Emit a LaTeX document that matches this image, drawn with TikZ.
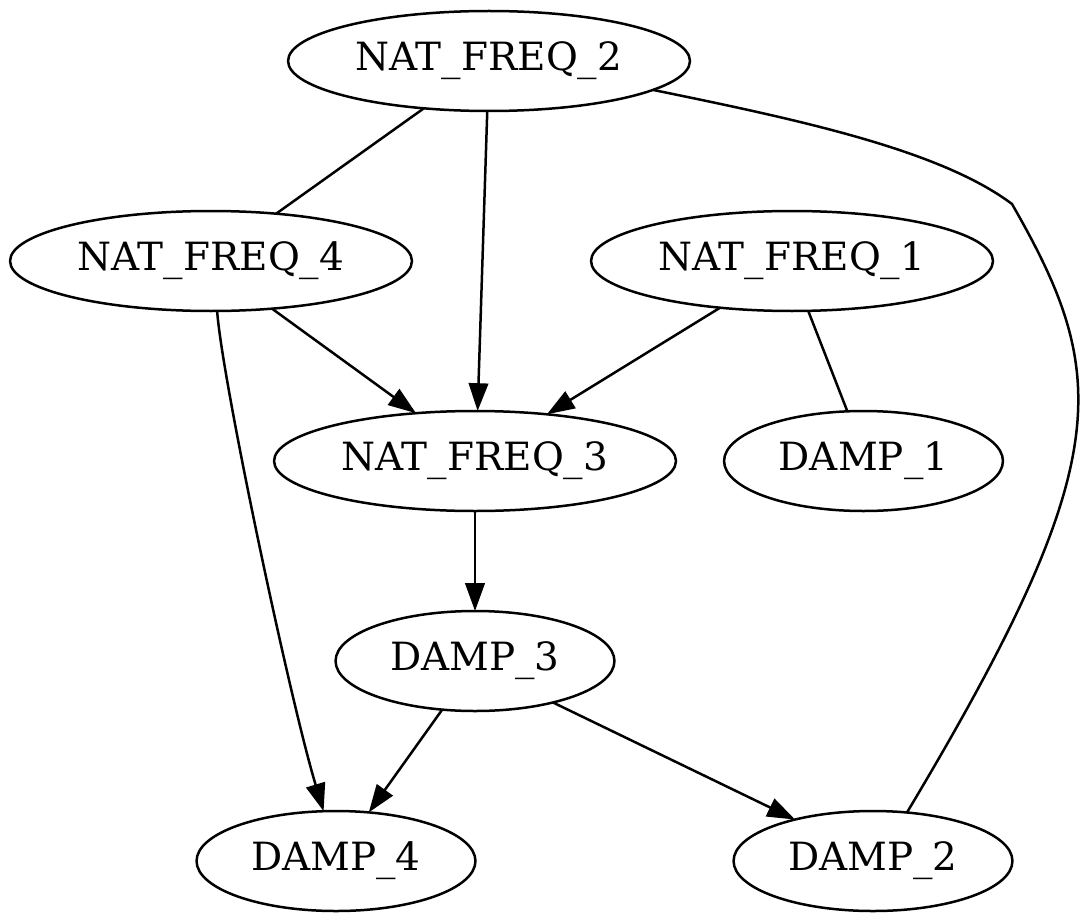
\documentclass[tikz,border=0pt]{standalone}
\usepackage{fontspec}
\setmainfont{DejaVu Serif}
\usetikzlibrary{arrows.meta,shapes.geometric}
\begin{document}
\begin{tikzpicture}[x=0.36pt,y=-0.36pt,
  gnode/.style={draw, ellipse, line width=0.9pt, inner sep=0pt, outer sep=0pt,
    minimum height=36pt, font=\fontsize{14pt}{16pt}\selectfont},
  widenode/.style={gnode, minimum width=144.7pt},
  narrownode/.style={gnode, minimum width=100.4pt},
  link/.style={line width=0.9pt},
  arr/.style={link, -{Triangle[length=10pt,width=7pt]}}]
\useasboundingbox (0,0) rectangle (1085,922);

\node[widenode] (n2) at (489,61) {NAT\_FREQ\_2};
\node[widenode] (n4) at (211,261) {NAT\_FREQ\_4};
\node[widenode] (n1) at (792,261) {NAT\_FREQ\_1};
\node[widenode] (n3) at (475,461) {NAT\_FREQ\_3};
\node[narrownode] (d1) at (863.5,461) {DAMP\_1};
\node[narrownode] (d3) at (475,661) {DAMP\_3};
\node[narrownode] (d4) at (336,861) {DAMP\_4};
\node[narrownode] (d2) at (873,861) {DAMP\_2};

\coordinate (kink) at (1012,204);

\draw[link] (n2.216.9) -- (n4.36.8);
\draw[arr] (n2.268.4) -- (n3.87);
\draw[link] (n2.350.7) .. controls (800,120) and (940,150) .. (kink)
  .. controls (1110,375) and (1118,460) .. (d2.55.6);
\draw[arr] (n4.322.7) -- (n3.141.5);
\draw[arr] (n4.277.4) .. controls (222,380) and (290,700) .. (d4.104.6);
\draw[arr] (n1.213.7) -- (n3.33.4);
\draw[link] (n1.288.5) -- (d1.108.4);
\draw[arr] (n3.270) -- (d3.90);
\draw[arr] (d3.236.6) -- (d4.56);
\draw[arr] (d3.332.2) -- (d2.152.8);
\end{tikzpicture}
\end{document}
